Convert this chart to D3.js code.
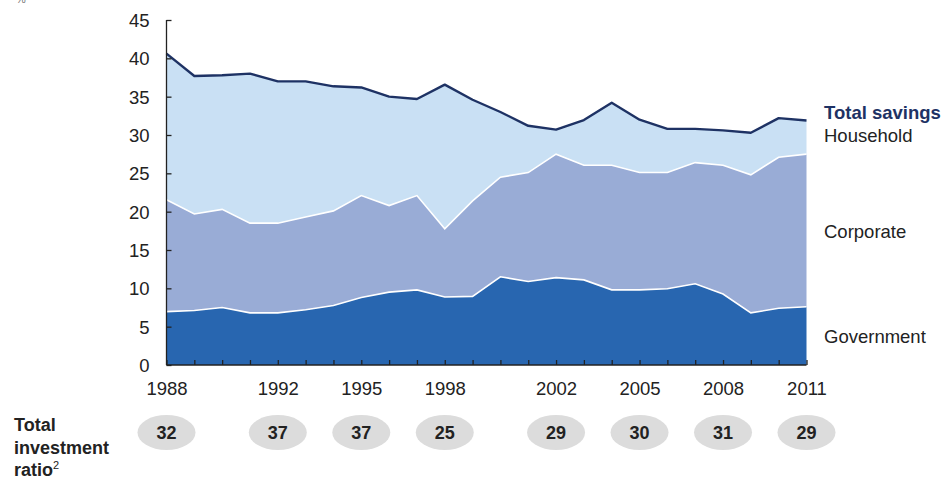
<!DOCTYPE html>
<html>
<head>
<meta charset="utf-8">
<script src="https://cdn.jsdelivr.net/npm/d3@7"></script>
<style>
  body { margin: 0; background: #fff; }
  svg { font-family: "Liberation Sans", Arial, sans-serif; }
</style>
</head>
<body>
<div id="chart"></div>
<script>
// savings by sector, % of GDP
var years = [1988, 1989, 1990, 1991, 1992, 1993, 1994, 1995, 1996, 1997, 1998, 1999,
             2000, 2001, 2002, 2003, 2004, 2005, 2006, 2007, 2008, 2009, 2010, 2011]
var government = [6.96, 7.1, 7.5, 6.8, 6.8, 7.2, 7.75, 8.8, 9.5, 9.8, 8.87, 8.95,
                  11.5, 10.9, 11.4, 11.1, 9.8, 9.8, 9.95, 10.6, 9.25, 6.8, 7.4, 7.6]
var corporate = [14.6, 12.6, 12.8, 11.7, 11.7, 12.1, 12.35, 13.3, 11.3, 12.3, 8.9, 12.45,
                 13.0, 14.2, 16.1, 14.95, 16.25, 15.3, 15.15, 15.8, 16.8, 18.0, 19.7, 19.9]
var household = [19.05, 18.0, 17.5, 19.5, 18.5, 17.7, 16.25, 14.1, 14.2, 12.6, 18.8, 13.2,
                 8.5, 6.1, 3.2, 5.9, 8.15, 6.9, 5.7, 4.4, 4.55, 5.5, 5.1, 4.4]

var labelYears = [1988, 1992, 1995, 1998, 2002, 2005, 2008, 2011]
var investmentRatio = [32, 37, 37, 25, 29, 30, 31, 29]
var yTicks = [0, 5, 10, 15, 20, 25, 30, 35, 40, 45]

var width = 947, height = 479
var margin = {left: 166.5, right: 140, top: 20, bottom: 114}

var svg = d3.select("#chart").append("svg")
    .attr("width", width).attr("height", height)

var x = d3.scaleLinear().domain([1988, 2011]).range([margin.left, 806.5])
var y = d3.scaleLinear().domain([0, 45]).range([365, margin.top])

var rows = years.map((yr, i) => {
    return {"year": yr, "government": government[i], "corporate": corporate[i], "household": household[i]}
})

var keys = ["government", "corporate", "household"]
var colors = {"government": "#2866b0", "corporate": "#99acd6", "household": "#c9e0f4"}

var series = d3.stack().keys(keys)(rows)

var area = d3.area()
    .x(function(d) { return x(d.data.year); })
    .y0(function(d) { return y(d[0]); })
    .y1(function(d) { return y(d[1]); })

var topLine = d3.line()
    .x(function(d) { return x(d.data.year); })
    .y(function(d) { return y(d[1]); })

svg.append("g").selectAll("path")
    .data(series)
    .enter().append("path")
    .attr("d", area)
    .attr("fill", function(d) { return colors[d.key]; })

// white separators between layers
svg.append("g").selectAll("path")
    .data(series.slice(0, 2))
    .enter().append("path")
    .attr("d", topLine)
    .attr("fill", "none")
    .attr("stroke", "#fff")
    .attr("stroke-width", 1.6)

// total savings
svg.append("path")
    .datum(series[2])
    .attr("d", topLine)
    .attr("fill", "none")
    .attr("stroke", "#1e3264")
    .attr("stroke-width", 2.4)
    .attr("stroke-linejoin", "round")

// axes
var yAxis = svg.append("g")
    .attr("transform", "translate(" + margin.left + ",0)")
    .call(d3.axisLeft(y).tickValues(yTicks).tickSize(-5).tickPadding(17))
var xAxis = svg.append("g")
    .attr("transform", "translate(0,365)")
    .call(d3.axisBottom(x).tickValues(years).tickSize(-5).tickPadding(0)
        .tickFormat(function(d) { return labelYears.indexOf(d) >= 0 ? d : ""; }))

svg.selectAll(".domain, .tick line").attr("stroke", "#222").attr("stroke-width", 1.3)
yAxis.select(".domain").attr("d", "M0," + y(45) + "V365")
xAxis.select(".domain").attr("d", "M" + margin.left + ",0H" + x(2011))
svg.selectAll(".tick text").attr("font-size", 18.5).attr("fill", "#222")
    .attr("font-family", "'Liberation Sans', Arial, sans-serif")
yAxis.selectAll(".tick text").attr("dy", "0.35em")
xAxis.selectAll(".tick text").attr("dy", "1.6em")

svg.append("text").attr("x", 16).attr("y", 3).attr("font-size", 11).attr("fill", "#777").text("%")

// series labels
var labels = [
    {"text": "Total savings", "y": 119, "bold": true, "color": "#1e3264"},
    {"text": "Household", "y": 142, "bold": false, "color": "#222"},
    {"text": "Corporate", "y": 238, "bold": false, "color": "#222"},
    {"text": "Government", "y": 343, "bold": false, "color": "#222"}
]
svg.append("g").selectAll("text")
    .data(labels)
    .enter().append("text")
    .attr("x", 824)
    .attr("y", function(d) { return d.y; })
    .attr("font-size", 18.5)
    .attr("font-weight", function(d) { return d.bold ? "bold" : "normal"; })
    .attr("fill", function(d) { return d.color; })
    .text(function(d) { return d.text; })

// investment ratio row
var inv = svg.append("text")
    .attr("x", 14).attr("font-size", 18).attr("font-weight", "bold").attr("fill", "#222")
inv.append("tspan").attr("x", 14).attr("y", 431).text("Total")
inv.append("tspan").attr("x", 14).attr("y", 453.5).text("investment")
inv.append("tspan").attr("x", 14).attr("y", 476).text("ratio")
inv.append("tspan").attr("font-size", 11).attr("font-weight", "normal").attr("dy", -7).text("2")

var bubbles = svg.append("g").selectAll("g")
    .data(labelYears.map((yr, i) => { return {"year": yr, "value": investmentRatio[i]} }))
    .enter().append("g")
    .attr("transform", function(d) { return "translate(" + x(d.year) + ",432.5)"; })

bubbles.append("ellipse").attr("rx", 29).attr("ry", 17.5).attr("fill", "#dcdcdc")
bubbles.append("text")
    .attr("text-anchor", "middle").attr("dy", "0.36em")
    .attr("font-size", 18).attr("font-weight", "bold").attr("fill", "#222")
    .text(function(d) { return d.value; })
</script>
</body>
</html>
